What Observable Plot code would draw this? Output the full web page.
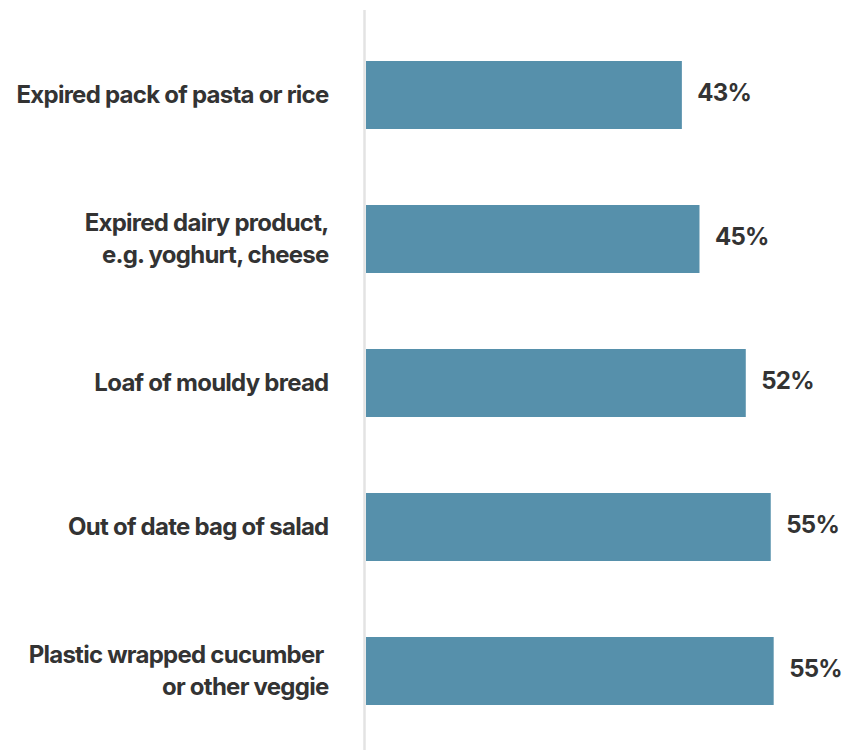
<!DOCTYPE html>
<html>
<head>
<meta charset="utf-8">
<script src="https://cdn.jsdelivr.net/npm/d3@7"></script>
<script src="https://cdn.jsdelivr.net/npm/@observablehq/plot@0.6"></script>
<style>
  html, body { margin: 0; padding: 0; background: #fff; }
  #chart svg { display: block; }
</style>
</head>
<body>
<div id="chart"></div>
<script>
const categories = [
  "Expired pack of pasta or rice",
  "Expired dairy product,\ne.g. yoghurt, cheese",
  "Loaf of mouldy bread",
  "Out of date bag of salad",
  "Plastic wrapped cucumber \nor other veggie"
];
const values = [43, 45.4, 51.7, 55.1, 55.5];
const valueLabels = ["43%", "45%", "52%", "55%", "55%"];

const data = categories.map((c, i) => ({category: c, value: values[i], label: valueLabels[i]}));

const fontFamily = "Inter, 'Open Sans', sans-serif";

const chart = Plot.plot({
  width: 842,
  height: 750,
  marginLeft: 366,
  marginRight: 0,
  marginTop: 16,
  marginBottom: 0,
  x: {domain: [0, 64.8], axis: null},
  y: {domain: categories, axis: null, paddingInner: 0.53, paddingOuter: 0.3},
  style: {fontFamily, background: "#fff"},
  marks: [
    Plot.barX(data, {x: "value", y: "category", fill: "#5690ab"}),
    Plot.ruleX([0], {stroke: "#e3e3e3", strokeWidth: 2.5, dx: -2, insetTop: -6}),
    Plot.text(data, {
      x: 0, y: "category", text: "category",
      textAnchor: "end", dx: -38, dy: -3, lineHeight: 1.35,
      fill: "#333", fontSize: 24, fontWeight: 700
    }),
    Plot.text(data, {
      x: "value", y: "category", text: "label",
      textAnchor: "start", dx: 15, dy: -2,
      fill: "#333", fontSize: 24, fontWeight: 700
    })
  ]
});
chart.querySelectorAll("text").forEach(t => t.style.letterSpacing = "-0.75px");
document.getElementById("chart").appendChild(chart);
</script>
</body>
</html>
